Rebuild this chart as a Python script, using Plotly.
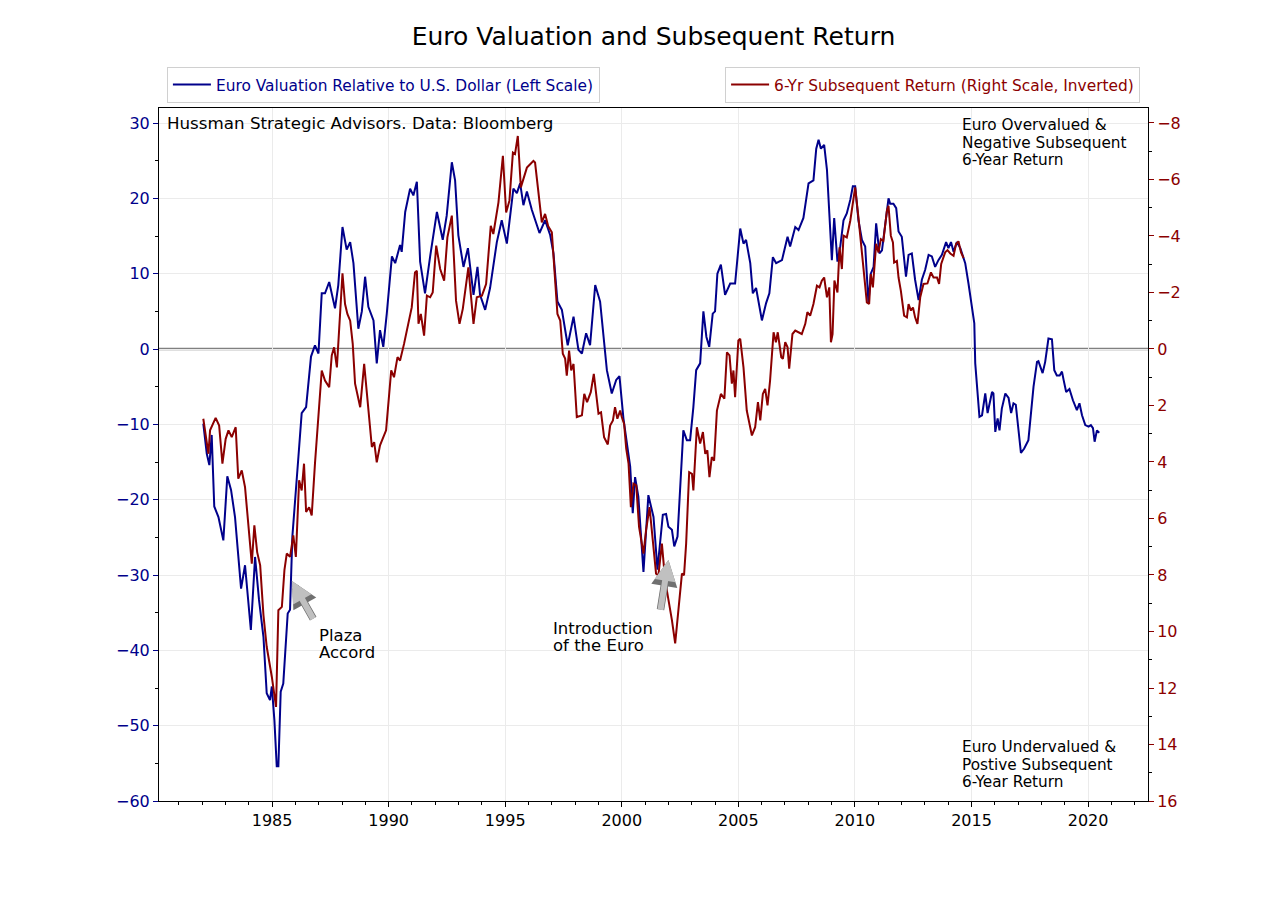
import plotly.graph_objects as go

# ---- data ----
euro_years = [1982.05, 1982.20, 1982.31, 1982.41, 1982.52, 1982.70, 1982.91, 1983.08, 1983.24, 1983.41,
              1983.53, 1983.67, 1983.84, 1984.09, 1984.27, 1984.44, 1984.63, 1984.77, 1984.91, 1984.99,
              1985.10, 1985.20, 1985.27, 1985.37, 1985.48, 1985.67, 1985.77, 1985.87, 1986.13, 1986.27,
              1986.46, 1986.67, 1986.84, 1986.99, 1987.13, 1987.27, 1987.45, 1987.63, 1987.70, 1987.84,
              1988.02, 1988.20, 1988.35, 1988.49, 1988.70, 1988.85, 1988.99, 1989.13, 1989.35, 1989.49,
              1989.63, 1989.77, 1989.92, 1990.14, 1990.28, 1990.49, 1990.56, 1990.71, 1990.92, 1991.06,
              1991.21, 1991.35, 1991.56, 1991.78, 1992.07, 1992.32, 1992.49, 1992.71, 1992.85, 1992.99,
              1993.21, 1993.40, 1993.64, 1993.81, 1993.92, 1994.14, 1994.35, 1994.64, 1994.85, 1995.07,
              1995.35, 1995.50, 1995.64, 1995.78, 1995.93, 1996.14, 1996.47, 1996.71, 1996.93, 1997.07,
              1997.24, 1997.43, 1997.68, 1997.93, 1998.14, 1998.29, 1998.47, 1998.64, 1998.86, 1999.07,
              1999.36, 1999.57, 1999.76, 1999.90, 2000.07, 2000.24, 2000.36, 2000.47, 2000.57, 2000.71,
              2000.93, 2001.14, 2001.36, 2001.53, 2001.76, 2001.90, 2002.00, 2002.15, 2002.25, 2002.39,
              2002.64, 2002.79, 2002.93, 2003.07, 2003.19, 2003.36, 2003.50, 2003.63, 2003.75, 2003.90,
              2004.00, 2004.10, 2004.25, 2004.43, 2004.65, 2004.86, 2005.08, 2005.22, 2005.33, 2005.51,
              2005.62, 2005.76, 2006.01, 2006.19, 2006.33, 2006.48, 2006.62, 2006.87, 2007.11, 2007.22,
              2007.44, 2007.58, 2007.79, 2008.01, 2008.22, 2008.34, 2008.44, 2008.54, 2008.68, 2008.80,
              2008.91, 2009.01, 2009.11, 2009.25, 2009.37, 2009.51, 2009.65, 2009.80, 2009.91, 2010.01,
              2010.15, 2010.30, 2010.44, 2010.58, 2010.68, 2010.80, 2010.91, 2011.05, 2011.16, 2011.30,
              2011.44, 2011.51, 2011.65, 2011.77, 2011.87, 2012.01, 2012.19, 2012.30, 2012.44, 2012.58,
              2012.73, 2012.87, 2013.01, 2013.16, 2013.30, 2013.44, 2013.58, 2013.73, 2013.91, 2014.01,
              2014.12, 2014.23, 2014.37, 2014.52, 2014.73, 2014.87, 2015.02, 2015.12, 2015.16, 2015.26,
              2015.34, 2015.45, 2015.59, 2015.69, 2015.88, 2015.94, 2016.02, 2016.12, 2016.20, 2016.30,
              2016.45, 2016.59, 2016.70, 2016.80, 2016.90, 2017.12, 2017.26, 2017.44, 2017.55, 2017.66,
              2017.81, 2017.87, 2018.05, 2018.16, 2018.30, 2018.45, 2018.55, 2018.66, 2018.78, 2018.88,
              2018.95, 2019.06, 2019.20, 2019.35, 2019.52, 2019.63, 2019.74, 2019.88, 2020.02, 2020.12,
              2020.21, 2020.28, 2020.38, 2020.48]
euro_valuation = [-9.9, -13.9, -15.4, -11.4, -20.9, -22.3, -25.4, -16.9, -18.7, -22.3,
                  -26.7, -31.8, -28.7, -37.3, -27.6, -33.3, -38.2, -45.7, -46.6, -44.8,
                  -49.3, -55.4, -55.4, -45.5, -44.4, -35.1, -34.6, -24.9, -14.3, -8.5,
                  -7.7, -1.0, 0.5, -0.6, 7.4, 7.4, 8.9, 6.1, 5.4, 8.5,
                  16.2, 13.2, 14.2, 11.4, 2.7, 5.0, 9.6, 5.6, 3.8, -1.9,
                  2.5, 0.3, 4.7, 12.3, 11.4, 13.8, 12.9, 18.2, 21.3, 20.4,
                  22.2, 11.6, 7.4, 12.3, 18.2, 14.5, 17.7, 24.8, 22.4, 15.1,
                  10.9, 13.4, 7.2, 10.9, 7.2, 5.2, 8.1, 14.2, 17.1, 14.0,
                  21.3, 20.7, 22.0, 19.1, 20.9, 18.5, 15.4, 17.1, 15.1, 12.7,
                  6.3, 5.2, 0.5, 4.3, -0.1, -0.6, 2.1, 0.5, 8.5, 6.3,
                  -2.8, -5.9, -4.1, -3.6, -9.2, -13.0, -15.6, -21.8, -17.0, -19.6,
                  -29.6, -19.4, -22.3, -29.3, -22.0, -21.9, -23.6, -24.0, -26.2, -24.9,
                  -10.8, -12.1, -12.1, -7.7, -2.8, -1.9, 5.0, 1.6, 0.3, 4.7,
                  5.0, 10.0, 11.2, 7.2, 8.7, 8.7, 16.0, 14.0, 14.5, 11.4,
                  7.4, 8.1, 3.8, 6.1, 7.4, 12.2, 11.4, 11.8, 14.9, 13.6,
                  16.2, 15.8, 17.4, 22.0, 22.4, 26.6, 27.8, 26.6, 27.1, 23.8,
                  17.1, 11.8, 17.4, 11.6, 13.6, 17.1, 18.0, 19.8, 21.6, 21.6,
                  17.1, 14.5, 13.6, 6.1, 10.0, 10.9, 16.7, 12.7, 13.1, 16.7,
                  20.0, 19.3, 19.3, 18.7, 15.6, 14.9, 9.6, 12.5, 12.7, 9.2,
                  6.5, 9.2, 10.5, 12.5, 12.3, 10.9, 11.8, 12.5, 14.2, 13.4,
                  14.2, 12.9, 14.2, 13.4, 11.4, 8.7, 5.2, 3.4, -1.9, -5.4,
                  -9.0, -8.8, -5.9, -8.5, -5.7, -5.9, -11.0, -9.2, -10.8, -7.9,
                  -5.9, -6.5, -8.5, -7.2, -7.4, -13.8, -13.2, -12.1, -8.5, -5.0,
                  -1.7, -1.6, -3.2, -1.7, 1.4, 1.3, -2.8, -3.5, -3.5, -3.0,
                  -4.1, -5.7, -5.3, -6.8, -8.1, -7.2, -8.8, -10.1, -10.3, -10.1,
                  -10.5, -12.3, -10.8, -11.1]

return_years = [1982.05, 1982.20, 1982.27, 1982.34, 1982.44, 1982.58, 1982.73, 1982.87, 1983.01, 1983.13,
                1983.27, 1983.44, 1983.55, 1983.70, 1983.84, 1983.98, 1984.13, 1984.24, 1984.36, 1984.49,
                1984.63, 1984.77, 1984.99, 1985.17, 1985.27, 1985.42, 1985.53, 1985.63, 1985.77, 1985.91,
                1986.02, 1986.16, 1986.27, 1986.37, 1986.46, 1986.59, 1986.70, 1986.84, 1986.96, 1987.13,
                1987.27, 1987.45, 1987.56, 1987.66, 1987.78, 1987.92, 1988.02, 1988.13, 1988.23, 1988.35,
                1988.46, 1988.56, 1988.78, 1988.95, 1989.13, 1989.28, 1989.38, 1989.49, 1989.63, 1989.89,
                1990.11, 1990.23, 1990.38, 1990.49, 1990.66, 1990.85, 1990.99, 1991.13, 1991.21, 1991.28,
                1991.38, 1991.52, 1991.64, 1991.78, 1991.89, 1992.04, 1992.21, 1992.38, 1992.52, 1992.71,
                1992.89, 1993.04, 1993.18, 1993.42, 1993.64, 1993.78, 1994.00, 1994.18, 1994.38, 1994.49,
                1994.71, 1994.90, 1995.04, 1995.18, 1995.33, 1995.42, 1995.54, 1995.67, 1995.81, 1995.93,
                1996.07, 1996.21, 1996.28, 1996.42, 1996.57, 1996.71, 1996.85, 1997.00, 1997.14, 1997.24,
                1997.36, 1997.47, 1997.57, 1997.64, 1997.74, 1997.83, 1997.93, 1998.07, 1998.29, 1998.39,
                1998.51, 1998.67, 1998.80, 1999.00, 1999.11, 1999.24, 1999.40, 1999.50, 1999.62, 1999.71,
                1999.81, 1999.93, 2000.00, 2000.10, 2000.19, 2000.29, 2000.39, 2000.50, 2000.62, 2000.74,
                2000.93, 2001.04, 2001.19, 2001.33, 2001.47, 2001.57, 2001.72, 2001.86, 2002.00, 2002.15,
                2002.29, 2002.43, 2002.58, 2002.67, 2002.76, 2002.89, 2003.01, 2003.07, 2003.22, 2003.36,
                2003.48, 2003.58, 2003.67, 2003.76, 2003.86, 2003.96, 2004.08, 2004.25, 2004.40, 2004.51,
                2004.62, 2004.72, 2004.79, 2004.86, 2005.00, 2005.08, 2005.22, 2005.36, 2005.58, 2005.72,
                2005.84, 2005.94, 2006.05, 2006.15, 2006.25, 2006.36, 2006.51, 2006.61, 2006.69, 2006.84,
                2006.91, 2007.01, 2007.11, 2007.18, 2007.32, 2007.44, 2007.72, 2007.87, 2007.96, 2008.08,
                2008.22, 2008.37, 2008.48, 2008.58, 2008.68, 2008.80, 2008.90, 2008.97, 2009.04, 2009.12,
                2009.25, 2009.34, 2009.44, 2009.51, 2009.65, 2009.80, 2009.91, 2010.01, 2010.15, 2010.30,
                2010.40, 2010.51, 2010.61, 2010.68, 2010.77, 2010.91, 2011.01, 2011.11, 2011.22, 2011.37,
                2011.44, 2011.54, 2011.63, 2011.68, 2011.80, 2011.87, 2011.97, 2012.11, 2012.23, 2012.30,
                2012.40, 2012.49, 2012.58, 2012.68, 2012.80, 2012.94, 2013.11, 2013.26, 2013.37, 2013.52,
                2013.61, 2013.70, 2013.87, 2013.97, 2014.09, 2014.23, 2014.34, 2014.44, 2014.55, 2014.66]
subsequent_return = [2.47, 3.35, 3.71, 2.88, 2.71, 2.44, 2.71, 4.06, 3.18, 2.88,
                     3.12, 2.77, 4.59, 4.30, 4.89, 6.18, 7.60, 6.24, 7.19, 7.66,
                     9.42, 10.54, 11.61, 12.67, 9.25, 9.13, 7.83, 7.24, 7.36, 6.60,
                     7.36, 4.65, 5.01, 4.06, 5.77, 5.60, 5.89, 4.06, 2.53, 0.76,
                     1.12, 1.35, 0.23, -0.06, 0.65, -1.12, -2.68, -1.59, -1.24, -1.00,
                     -0.18, 1.23, 2.06, 0.53, 2.00, 3.47, 3.30, 4.01, 3.41, 2.88,
                     0.76, 1.00, 0.29, 0.41, -0.18, -1.00, -1.47, -2.71, -2.77, -0.89,
                     -1.24, -0.47, -1.89, -1.83, -2.00, -3.66, -2.83, -2.42, -3.95, -4.72,
                     -1.71, -0.89, -1.42, -2.89, -0.89, -1.83, -1.89, -2.30, -4.36, -4.07,
                     -5.19, -6.84, -4.83, -5.25, -6.95, -6.90, -7.54, -5.72, -6.07, -6.42,
                     -6.54, -6.66, -6.60, -5.60, -4.48, -4.78, -4.33, -4.13, -2.53, -1.24,
                     -1.00, 0.17, 0.34, 0.94, 0.06, 0.76, 0.53, 2.41, 2.35, 1.59,
                     1.88, 1.53, 0.88, 2.29, 2.24, 3.12, 3.38, 2.71, 2.53, 2.06,
                     2.47, 2.18, 2.41, 2.65, 3.53, 4.06, 5.60, 4.77, 4.83, 6.30,
                     7.24, 6.42, 5.60, 6.89, 7.95, 8.01, 6.89, 8.19, 8.83, 9.60,
                     10.42, 9.13, 7.95, 8.01, 6.89, 4.36, 4.42, 5.01, 2.77, 3.35,
                     2.94, 3.71, 3.59, 4.54, 3.83, 3.95, 2.18, 1.59, 1.76, 0.12,
                     0.23, 1.23, 0.76, 1.71, -0.30, -0.36, 0.65, 2.18, 3.06, 2.77,
                     1.88, 2.53, 1.59, 1.41, 2.00, 1.12, -0.59, -0.24, -0.59, 0.29,
                     0.35, -0.24, -0.06, 0.70, -0.53, -0.65, -0.53, -0.89, -1.30, -1.18,
                     -1.59, -2.24, -2.18, -2.42, -2.53, -1.83, -2.18, -0.24, -0.53, -2.42,
                     -2.00, -3.60, -2.83, -4.01, -3.95, -4.54, -5.13, -5.72, -4.66, -3.48,
                     -2.65, -1.65, -1.59, -2.65, -2.18, -3.72, -3.42, -3.89, -3.83, -4.89,
                     -5.07, -4.01, -3.77, -3.06, -3.12, -2.53, -2.06, -1.18, -1.12, -1.59,
                     -1.36, -1.47, -1.12, -0.89, -1.83, -2.30, -2.32, -2.71, -2.53, -2.53,
                     -2.30, -3.01, -3.42, -3.50, -3.38, -3.30, -3.72, -3.81, -3.42, -3.22]

left_ticks = [-60, -50, -40, -30, -20, -10, 0, 10, 20, 30]
right_ticks = [-8, -6, -4, -2, 0, 2, 4, 6, 8, 10, 12, 14, 16]
year_ticks = [1985, 1990, 1995, 2000, 2005, 2010, 2015, 2020]

over_lines = ["Euro Overvalued &", "Negative Subsequent", "6-Year Return"]
under_lines = ["Euro Undervalued &", "Postive Subsequent", "6-Year Return"]
plaza_lines = ["Plaza", "Accord"]
euro_lines = ["Introduction", "of the Euro"]

BLUE = "#00008B"
RED = "#8B0000"
FONT = "DejaVu Sans"

fig = go.Figure()
fig.add_trace(go.Scatter(
    x=euro_years, y=euro_valuation, mode="lines",
    line=dict(color=BLUE, width=2),
    name="Euro Valuation Relative to U.S. Dollar (Left Scale)",
    legend="legend", yaxis="y"))
fig.add_trace(go.Scatter(
    x=return_years, y=subsequent_return, mode="lines",
    line=dict(color=RED, width=2),
    name="6-Yr Subsequent Return (Right Scale, Inverted)",
    legend="legend2", yaxis="y2"))

# zero line
fig.add_shape(type="line", xref="paper", x0=0, x1=1, yref="y", y0=0, y1=0,
              line=dict(color="#808080", width=2.5), layer="below")

# the page body adds an 8px margin, so the figure is 8px smaller and shifted
fig.update_layout(
    width=1267, height=892,
    paper_bgcolor="white", plot_bgcolor="white",
    margin=dict(l=151, r=127, t=100, b=99),
    font=dict(family=FONT, size=16, color="black"),
    title=dict(text="Euro Valuation and Subsequent Return", x=0.5, xref="paper", xanchor="center",
               y=1 - 28 / 892, yref="container", yanchor="middle",
               font=dict(family=FONT, size=25, color="black")),
    xaxis=dict(range=[1980.15, 2022.57], tickvals=year_ticks, ticks="outside", ticklen=5,
               tickcolor="black", showline=True, linecolor="black", linewidth=1, mirror=True,
               showgrid=True, gridcolor="#ebebeb", gridwidth=1, zeroline=False,
               tickfont=dict(family=FONT, size=16, color="black"),
               minor=dict(dtick=1, tick0=1980, ticks="outside", ticklen=3, tickcolor="black",
                          showgrid=False)),
    yaxis=dict(range=[-60, 32], tickvals=left_ticks, ticks="outside", ticklen=5,
               tickcolor=BLUE, showline=True, linecolor="black", linewidth=1,
               showgrid=True, gridcolor="#ebebeb", gridwidth=1, zeroline=False,
               tickfont=dict(family=FONT, size=16, color=BLUE),
               minor=dict(dtick=5, tick0=0, ticks="outside", ticklen=3, tickcolor="black",
                          showgrid=False)),
    yaxis2=dict(range=[16, -8.53], tickvals=right_ticks, overlaying="y", side="right",
                ticks="outside", ticklen=5, tickcolor=RED, showline=True, linecolor="black",
                linewidth=1, showgrid=False, zeroline=False,
                tickfont=dict(family=FONT, size=16, color=RED),
                minor=dict(dtick=1, tick0=0, ticks="outside", ticklen=3, tickcolor="black")),
    legend=dict(x=0.008, y=1.059, xanchor="left", yanchor="top", bgcolor="white",
                bordercolor="#d0d0d0", borderwidth=1, tracegroupgap=0,
                font=dict(family=FONT, size=15.4, color=BLUE), itemwidth=38),
    legend2=dict(x=0.992, y=1.059, xanchor="right", yanchor="top", bgcolor="white",
                 bordercolor="#d0d0d0", borderwidth=1, tracegroupgap=0,
                 font=dict(family=FONT, size=15.4, color=RED), itemwidth=38),
    showlegend=True,
)

# text annotations
fig.add_annotation(xref="paper", yref="paper", x=0.006, y=0.995, xanchor="left", yanchor="top",
                   text="Hussman Strategic Advisors. Data: Bloomberg", showarrow=False,
                   font=dict(family=FONT, size=16.7, color="black"))


def text_block(lines, x, y_first, step, size):
    for i, line in enumerate(lines):
        fig.add_annotation(xref="paper", yref="paper", x=x, y=y_first - i * step,
                           xanchor="left", yanchor="middle", text=line, showarrow=False,
                           font=dict(family=FONT, size=size, color="black"))


text_block(over_lines, 0.810, 0.9755, 0.0253, 15.3)
text_block(under_lines, 0.810, 0.0779, 0.0253, 15.3)
text_block(plaza_lines, 0.1598, 0.2395, 0.0252, 16.5)
text_block(euro_lines, 0.3964, 0.2489, 0.0245, 16.5)

# Plaza Accord arrow
for col, w in (("#707070", 7.5), ("#c0c0c0", 6)):
    fig.add_annotation(x=1985.85, y=-30.8, ax=1986.8, ay=-36.0, xref="x", yref="y",
                       axref="x", ayref="y", text="", showarrow=True, arrowhead=2,
                       arrowsize=0.7, arrowwidth=w, arrowcolor=col)

# Introduction of the Euro arrow
for col, w in (("#707070", 7.5), ("#c0c0c0", 6)):
    fig.add_annotation(x=2002.0, y=-28.0, ax=2001.65, ay=-34.8, xref="x", yref="y",
                       axref="x", ayref="y", text="", showarrow=True, arrowhead=2,
                       arrowsize=0.7, arrowwidth=w, arrowcolor=col)

fig.write_html("out.html")
